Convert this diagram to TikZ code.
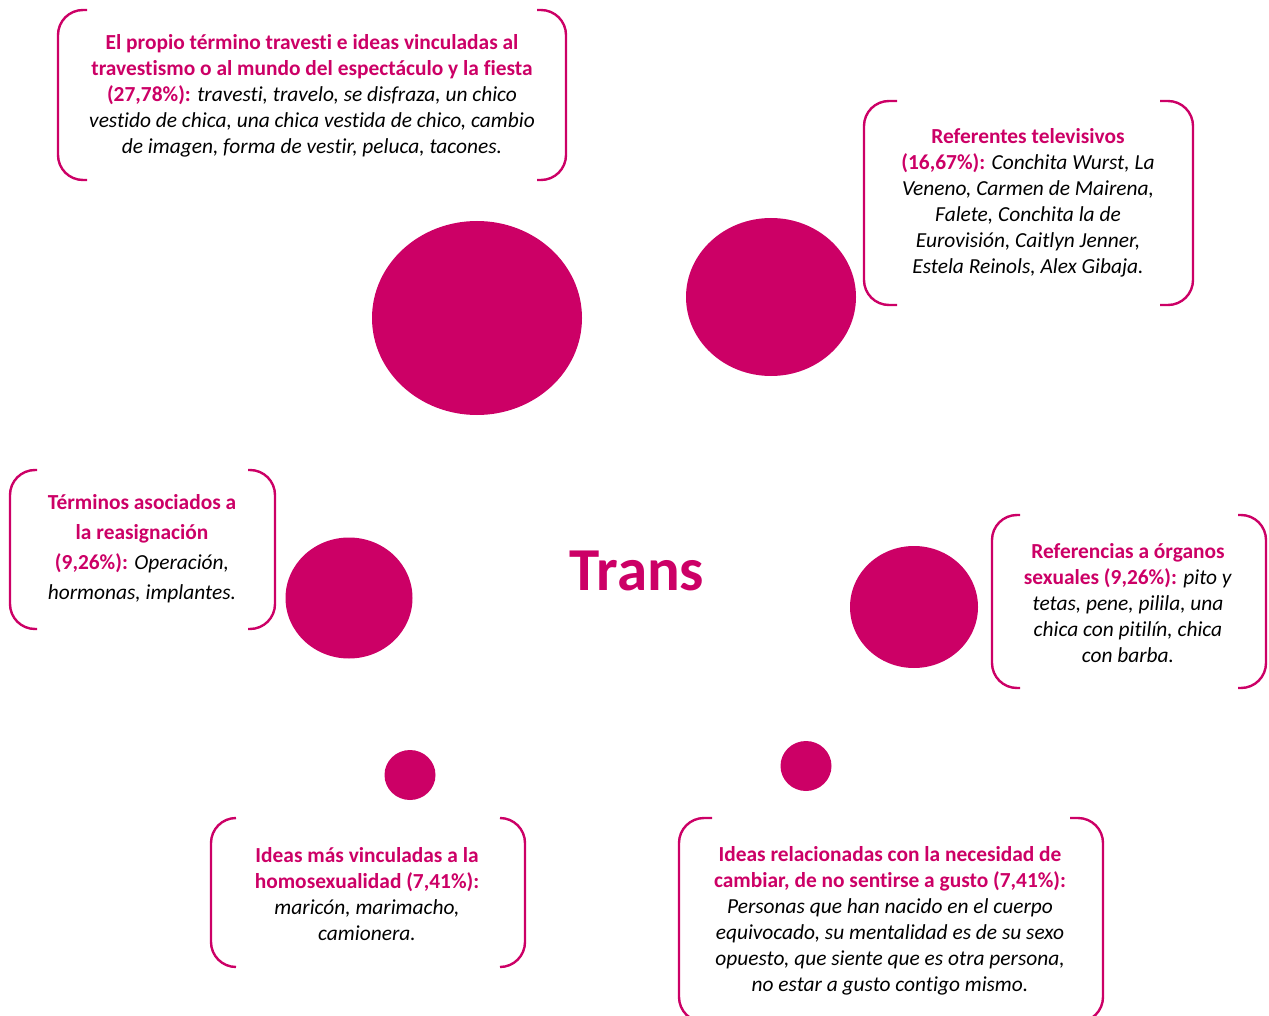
\documentclass[tikz,border=0pt]{standalone}
\usepackage{fontspec}
\setmainfont{Carlito}[Ligatures=NoCommon]
\usetikzlibrary{calc,shapes.geometric}
\definecolor{transpink}{HTML}{CC0066}
\newcommand\hd[1]{\textcolor{transpink}{\bfseries #1}}
% left x, right x, top y, bottom y, stub
\def\brackets(#1:#2:#3:#4:#5){
	\draw[bracket] ({#1+#5}, #3) -- (#1, #3) -- (#1, #4) -- ({#1+#5}, #4);
	\draw[bracket] ({#2-#5}, #3) -- (#2, #3) -- (#2, #4) -- ({#2-#5}, #4);
}

\begin{document}
\begin{tikzpicture}[x=1pt, y=-1pt,
	bracket/.style={line width=2.4pt, color=transpink, rounded corners=25pt},
	bubble/.style={ellipse, fill=transpink, inner sep=0pt},
	lbl/.style={align=center, inner sep=0pt, font=\fontsize{21.4}{26}\selectfont}]
			%%%%% START %%%%%
			\useasboundingbox (0, 0) rectangle (1269, 1016);
			
			\node[bubble, minimum width=210pt, minimum height=194pt] (bubTrav) at (477, 318) {};
			\node[bubble, minimum width=170pt, minimum height=158pt] (bubTele) at (771, 297) {};
			\node[bubble, minimum width=127pt, minimum height=121pt] (bubReas) at (349, 598) {};
			\node[bubble, minimum width=128pt, minimum height=122pt] (bubOrg) at (914, 607) {};
			\node[bubble, minimum width=51pt, minimum height=50pt] (bubHomo) at (410, 775) {};
			\node[bubble, minimum width=51pt, minimum height=50pt] (bubCamb) at (806, 766) {};
			
			\node[font=\fontsize{61}{66}\selectfont\bfseries, text=transpink] (trans) at (637, 571) {Trans};
			
			\brackets(58:566:10:180:29)
			\node[lbl] (txtTrav) at (312, 96) {\hd{El propio término travesti e ideas vinculadas al}\\
				\hd{travestismo o al mundo del espectáculo y la fiesta}\\
				\hd{(27,78\%):} \textit{travesti, travelo, se disfraza, un chico}\\
				\textit{vestido de chica, una chica vestida de chico, cambio}\\
				\textit{de imagen, forma de vestir, peluca, tacones.}};
			
			\brackets(864:1193:101:305:33)
			\node[lbl] (txtTele) at (1028, 203) {\hd{Referentes televisivos}\\
				\hd{(16,67\%):} \textit{Conchita Wurst, La}\\
				\textit{Veneno, Carmen de Mairena,}\\
				\textit{Falete, Conchita la de}\\
				\textit{Eurovisión, Caitlyn Jenner,}\\
				\textit{Estela Reinols, Alex Gibaja.}};
			
			\brackets(10:275:470:629:27)
			\node[lbl, font=\fontsize{21.4}{30}\selectfont] (txtReas) at (142, 549) {\hd{Términos asociados a}\\
				\hd{la reasignación}\\
				\hd{(9,26\%):} \textit{Operación,}\\
				\textit{hormonas, implantes.}};
			
			\brackets(992:1266:515:688:28)
			\node[lbl] (txtOrg) at (1128, 603) {\hd{Referencias a órganos}\\
				\hd{sexuales (9,26\%):} \textit{pito y}\\
				\textit{tetas, pene, pilila, una}\\
				\textit{chica con pitilín, chica}\\
				\textit{con barba.}};
			
			\brackets(211:525:818:967:25)
			\node[lbl] (txtHomo) at (367, 894) {\hd{Ideas más vinculadas a la}\\
				\hd{homosexualidad (7,41\%):}\\
				\textit{maricón, marimacho,}\\
				\textit{camionera.}};
			
			\brackets(679:1103:818:1022:33)
			\node[lbl] (txtCamb) at (890, 921) {\hd{Ideas relacionadas con la necesidad de}\\
				\hd{cambiar, de no sentirse a gusto (7,41\%):}\\
				\textit{Personas que han nacido en el cuerpo}\\
				\textit{equivocado, su mentalidad es de su sexo}\\
				\textit{opuesto, que siente que es otra persona,}\\
				\textit{no estar a gusto contigo mismo.}};
			
			%%%%% END %%%%%
\end{tikzpicture}
\end{document}
